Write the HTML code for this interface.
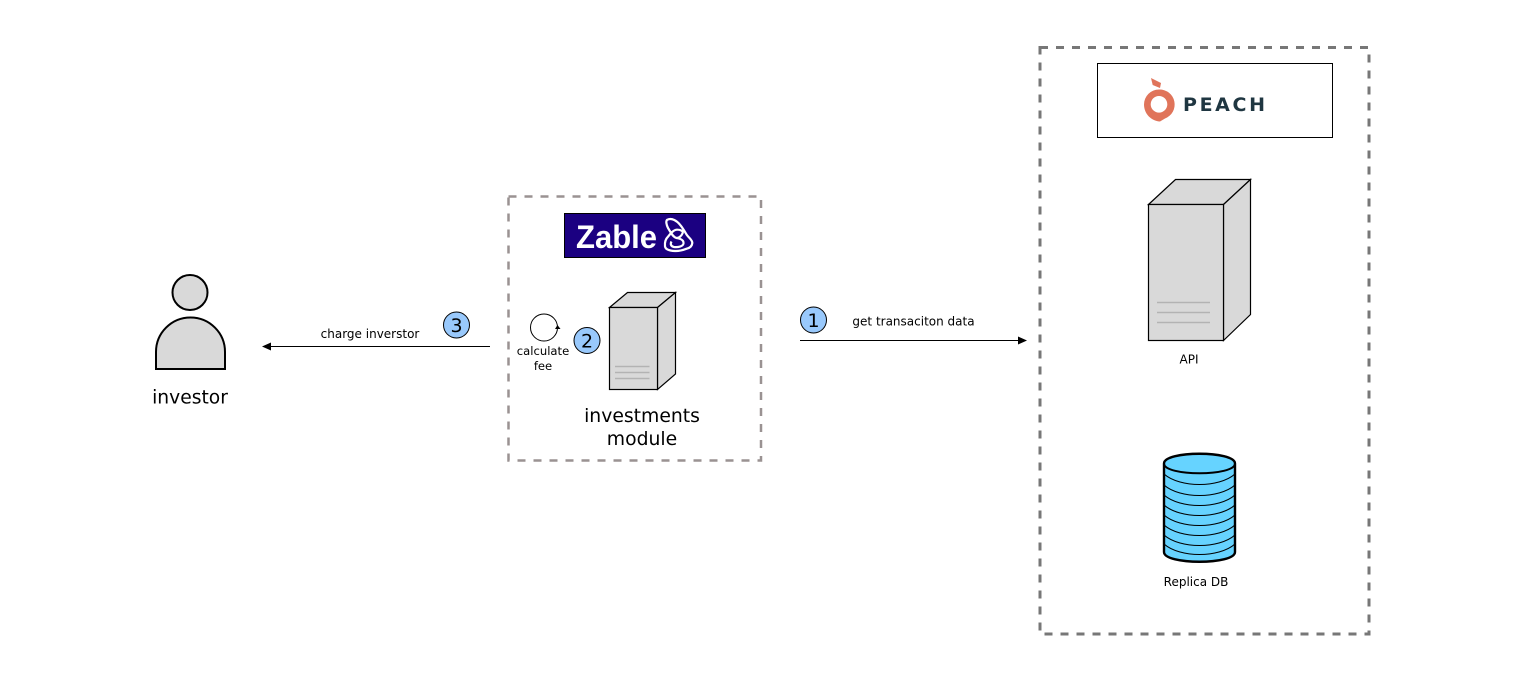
<!DOCTYPE html>
<html>
<head>
<meta charset="utf-8">
<style>
html,body{margin:0;padding:0;background:#fff;width:1522px;height:682px;overflow:hidden}
svg{display:block}
text{font-family:"DejaVu Sans",sans-serif;fill:#000}
</style>
</head>
<body>
<svg width="1522" height="682" viewBox="0 0 1522 682" xmlns="http://www.w3.org/2000/svg">
<rect width="1522" height="682" fill="#fff"/>

<!-- containers -->
<rect x="508.5" y="196.5" width="252.5" height="264" fill="none" stroke="#9a9292" stroke-width="2.5" stroke-dasharray="8 8"/>
<rect x="1040" y="47.5" width="329" height="586.5" fill="none" stroke="#777" stroke-width="3" stroke-dasharray="8 8"/>

<!-- person -->
<circle cx="190" cy="292.5" r="17.5" fill="#d9d9d9" stroke="#000" stroke-width="2"/>
<path d="M156 369V352A34.5 34.5 0 0 1 225 352V369Z" fill="#d9d9d9" stroke="#000" stroke-width="2"/>
<text x="190" y="403.5" font-size="18.700" text-anchor="middle">investor</text>

<!-- charge arrow -->
<path d="M490 346.500H270" stroke="#000" stroke-width="1" fill="none"/>
<path d="M262 346.500L271 342.500V350.500Z" fill="#000"/>
<text x="370" y="338" font-size="12" text-anchor="middle">charge inverstor</text>
<circle cx="456.500" cy="325" r="13" fill="#99c9fc" stroke="#000" stroke-width="1"/>
<text x="456.500" y="332" font-size="19" text-anchor="middle">3</text>

<!-- Zable logo -->
<rect x="564.500" y="213.500" width="141" height="44" fill="#1b0081" stroke="#000" stroke-width="1"/>
<text x="576" y="248" font-size="32" font-weight="bold" style="font-family:'Liberation Sans',sans-serif;fill:#fff" textLength="81" lengthAdjust="spacingAndGlyphs">Zable</text>
<g fill="none" stroke="#fff" stroke-width="2.200">
<path d="M667.300 219.700C672 217.500 677 221 680 224.700C683 228 684.500 231.500 686.700 234.700C689 238 692.500 240 692.300 243C692 246.500 689.500 248 686.700 248.700C682 250.500 679 251.200 675 251C670 250.800 665.500 250 665 246.300C664.500 242 665.500 239 668.300 236.300C671 233 673.500 230 676.700 229.700C680 229.500 683.500 231 682.700 233C681.500 236 679 238 676.700 238C673 237.500 670.500 232 668 228C666.500 225 665.500 221 667.300 219.700Z"/>
<path d="M676.700 238C680 238.500 684 240 683.500 243.500C683 246.500 678 247.500 674 247C671 246.500 670 244 671.500 241.500"/>
</g>

<!-- self loop -->
<circle cx="544" cy="327.500" r="13.500" fill="#fff" stroke="#000" stroke-width="1"/>
<path d="M557.500 325L560.500 329H555Z" fill="#000"/>
<text x="543" y="355" font-size="11.600" text-anchor="middle">calculate</text>
<text x="543" y="370" font-size="11.600" text-anchor="middle">fee</text>
<circle cx="587" cy="340.500" r="13" fill="#99c9fc" stroke="#000" stroke-width="1"/>
<text x="587" y="347.500" font-size="19" text-anchor="middle">2</text>

<!-- small server -->
<g stroke="#000" stroke-width="1.200" fill="#d9d9d9" stroke-linejoin="miter">
<path d="M609.500 307.500L627.500 292.500H675.500L657.500 307.500Z"/>
<path d="M657.500 307.500L675.500 292.500V374L657.500 389.500Z"/>
<rect x="609.500" y="307.500" width="48" height="82"/>
</g>
<g stroke="#b3b3b3" stroke-width="1.500">
<path d="M615 366.500H649.500M615 372.500H649.500M615 378.500H649.500"/>
</g>
<text x="642" y="422" font-size="18.800" text-anchor="middle">investments</text>
<text x="642" y="445" font-size="18.800" text-anchor="middle">module</text>

<!-- get data arrow -->
<circle cx="813.500" cy="320" r="13" fill="#99c9fc" stroke="#000" stroke-width="1"/>
<text x="813.500" y="327" font-size="19" text-anchor="middle">1</text>
<text x="913.500" y="325.500" font-size="12" text-anchor="middle">get transaciton data</text>
<path d="M800 340.500H1019" stroke="#000" stroke-width="1" fill="none"/>
<path d="M1027 340.500L1018 336.500V344.500Z" fill="#000"/>

<!-- Peach logo -->
<rect x="1097.500" y="63.500" width="235" height="74" fill="#fff" stroke="#000" stroke-width="1"/>
<path d="M1151 78L1161 83L1160 88L1152.700 85Z" fill="#e0745a"/>
<path fill-rule="evenodd" d="M1159 89.500A15 15 0 0 1 1165 118.500L1160 121.500C1151 121 1144 113.500 1144 104.500A15 15 0 0 1 1159 89.500ZM1159 96A8.300 8.300 0 1 0 1159 112.600A8.300 8.300 0 1 0 1159 96Z" fill="#e0745a"/>
<text x="1183" y="111" font-size="19" font-weight="bold" style="fill:#1f3641" textLength="82" lengthAdjust="spacing">PEACH</text>

<!-- API server -->
<g stroke="#000" stroke-width="1.200" fill="#d9d9d9">
<path d="M1148.500 204.500L1175.500 179.500H1250.500L1223.500 204.500Z"/>
<path d="M1223.500 204.500L1250.500 179.500V314.500L1223.500 340.500Z"/>
<rect x="1148.500" y="204.500" width="75" height="136"/>
</g>
<g stroke="#b3b3b3" stroke-width="1.600">
<path d="M1157 302.500H1210M1157 312.500H1210M1157 322.500H1210"/>
</g>
<text x="1189" y="363.500" font-size="12" text-anchor="middle">API</text>

<!-- DB -->
<path d="M1164 463.500C1164 450.500 1235 450.500 1235 463.500V552C1235 565 1164 565 1164 552Z" fill="#66d3ff"/>
<g fill="none" stroke="#000" stroke-width="1.100">
<path d="M1164 474C1180 488 1219 488 1235 474"/>
<path d="M1164 485C1180 499 1219 499 1235 485"/>
<path d="M1164 495C1180 509 1219 509 1235 495"/>
<path d="M1164 505C1180 519 1219 519 1235 505"/>
<path d="M1164 515C1180 529 1219 529 1235 515"/>
<path d="M1164 525C1180 539 1219 539 1235 525"/>
<path d="M1164 535C1180 549 1219 549 1235 535"/>
<path d="M1164 544C1180 558 1219 558 1235 544"/>
</g>
<path d="M1164 463.500C1164 450.500 1235 450.500 1235 463.500V552C1235 565 1164 565 1164 552Z" fill="none" stroke="#000" stroke-width="2.400"/>
<path d="M1164 463.500C1164 476.500 1235 476.500 1235 463.500" fill="none" stroke="#000" stroke-width="2"/>
<text x="1196" y="586" font-size="12" text-anchor="middle">Replica DB</text>
</svg>
</body>
</html>
